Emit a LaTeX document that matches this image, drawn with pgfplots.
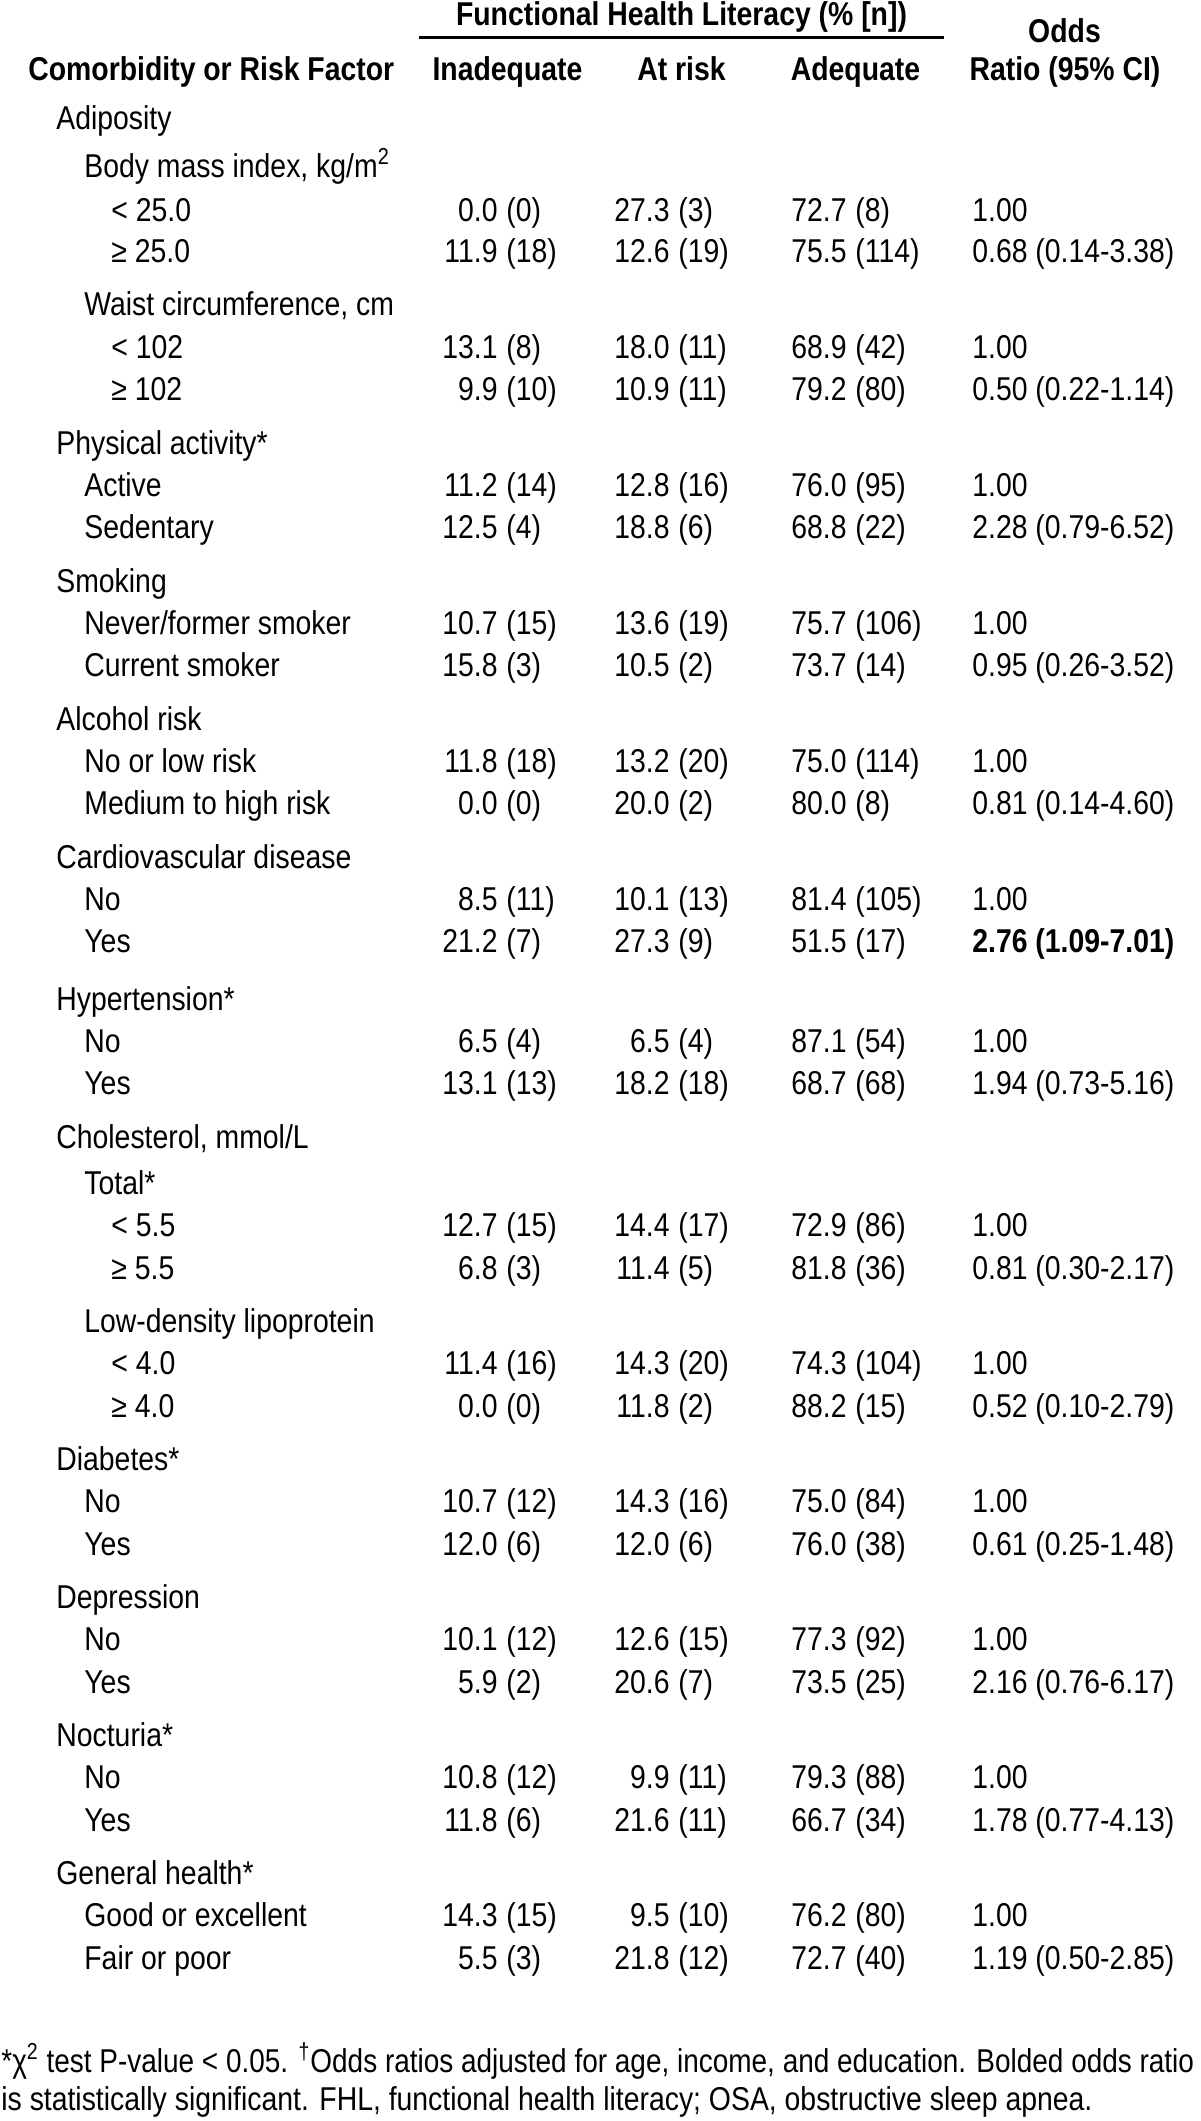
\documentclass[border=0pt]{standalone}
\usepackage{fontspec}
\setmainfont{Liberation Sans}[FakeStretch=0.86]
\usepackage{graphicx}
\usepackage{pgfplots}
\pgfplotsset{compat=1.18}
\newcommand\fs{\fontsize{16.5}{19}\selectfont}
\newcommand\sq{\textsuperscript{2}}
\newcommand\dg{\textsuperscript{†}}
\newcommand\semi{;}
\begin{document}
\begin{tikzpicture}
\begin{axis}[
  scale only axis, width=600pt, height=1060.5pt,
  xmin=0, xmax=1200, ymin=0, ymax=2121, y dir=reverse,
  hide axis, clip=false,
  tbl/.style={draw=none, mark=none, nodes near coords, point meta=explicit symbolic,
    every node near coord/.append style={inner sep=0pt, font=\fs, text=black, anchor=#1}},
  tblb/.style={draw=none, mark=none, nodes near coords, point meta=explicit symbolic,
    every node near coord/.append style={inner sep=0pt, font=\fs\bfseries, text=black, anchor=#1}},
]
% header
\addplot[tblb=base] coordinates {(681.5,25) [Functional Health Literacy (\% {[}n{]})]
  (1064.5,42) [Odds] (507.5,80) [Inadequate] (681.5,80) [At risk] (855.5,80) [Adequate]
  (1065,80) [Ratio (95\% CI)]};
\addplot[tblb=base west] coordinates {(28,80) [Comorbidity or Risk Factor]};
\addplot[black, line width=1.5pt, mark=none] coordinates {(419,37) (944,37)};
% row labels, level 1
\addplot[tbl=base west] coordinates {
 (56,129) [Adiposity] (56,454) [Physical activity*] (56,592) [Smoking]
 (56,730) [Alcohol risk] (56,868) [Cardiovascular disease] (56,1010) [Hypertension*]
 (56,1148) [Cholesterol, mmol/L] (56,1470) [Diabetes*] (56,1608) [Depression]
 (56,1746) [Nocturia*] (56,1884) [General health*]};
% level 2
\addplot[tbl=base west] coordinates {
 (84,177) [Body mass index, kg/m\sq] (84,315) [Waist circumference, cm]
 (84,496) [Active] (84,538) [Sedentary]
 (84,634) [Never/former smoker] (84,676) [Current smoker]
 (84,772) [No or low risk] (84,814) [Medium to high risk]
 (84,910) [No] (84,952) [Yes]
 (84,1052) [No] (84,1094) [Yes]
 (84,1194) [Total*] (84,1332) [Low-density lipoprotein]
 (84,1512) [No] (84,1555) [Yes]
 (84,1650) [No] (84,1693) [Yes]
 (84,1788) [No] (84,1831) [Yes]
 (84,1926) [Good or excellent] (84,1969) [Fair or poor]};
% level 3
\addplot[tbl=base west] coordinates {
 (111,221) [< 25.0] (111,262) [≥ 25.0] (111,358) [< 102] (111,400) [≥ 102]
 (111,1236) [< 5.5] (111,1279) [≥ 5.5] (111,1374) [< 4.0] (111,1417) [≥ 4.0]};
% Inadequate: percentages
\addplot[tbl=base east] coordinates {
 (498,221) [0.0] (498,262) [11.9] (498,358) [13.1] (498,400) [9.9]
 (498,496) [11.2] (498,538) [12.5] (498,634) [10.7] (498,676) [15.8]
 (498,772) [11.8] (498,814) [0.0] (498,910) [8.5] (498,952) [21.2]
 (498,1052) [6.5] (498,1094) [13.1] (498,1236) [12.7] (498,1279) [6.8]
 (498,1374) [11.4] (498,1417) [0.0] (498,1512) [10.7] (498,1555) [12.0]
 (498,1650) [10.1] (498,1693) [5.9] (498,1788) [10.8] (498,1831) [11.8]
 (498,1926) [14.3] (498,1969) [5.5]};
\addplot[tbl=base west] coordinates {
 (506,221) [(0)] (506,262) [(18)] (506,358) [(8)] (506,400) [(10)]
 (506,496) [(14)] (506,538) [(4)] (506,634) [(15)] (506,676) [(3)]
 (506,772) [(18)] (506,814) [(0)] (506,910) [(11)] (506,952) [(7)]
 (506,1052) [(4)] (506,1094) [(13)] (506,1236) [(15)] (506,1279) [(3)]
 (506,1374) [(16)] (506,1417) [(0)] (506,1512) [(12)] (506,1555) [(6)]
 (506,1650) [(12)] (506,1693) [(2)] (506,1788) [(12)] (506,1831) [(6)]
 (506,1926) [(15)] (506,1969) [(3)]};
% At risk
\addplot[tbl=base east] coordinates {
 (670,221) [27.3] (670,262) [12.6] (670,358) [18.0] (670,400) [10.9]
 (670,496) [12.8] (670,538) [18.8] (670,634) [13.6] (670,676) [10.5]
 (670,772) [13.2] (670,814) [20.0] (670,910) [10.1] (670,952) [27.3]
 (670,1052) [6.5] (670,1094) [18.2] (670,1236) [14.4] (670,1279) [11.4]
 (670,1374) [14.3] (670,1417) [11.8] (670,1512) [14.3] (670,1555) [12.0]
 (670,1650) [12.6] (670,1693) [20.6] (670,1788) [9.9] (670,1831) [21.6]
 (670,1926) [9.5] (670,1969) [21.8]};
\addplot[tbl=base west] coordinates {
 (678,221) [(3)] (678,262) [(19)] (678,358) [(11)] (678,400) [(11)]
 (678,496) [(16)] (678,538) [(6)] (678,634) [(19)] (678,676) [(2)]
 (678,772) [(20)] (678,814) [(2)] (678,910) [(13)] (678,952) [(9)]
 (678,1052) [(4)] (678,1094) [(18)] (678,1236) [(17)] (678,1279) [(5)]
 (678,1374) [(20)] (678,1417) [(2)] (678,1512) [(16)] (678,1555) [(6)]
 (678,1650) [(15)] (678,1693) [(7)] (678,1788) [(11)] (678,1831) [(11)]
 (678,1926) [(10)] (678,1969) [(12)]};
% Adequate
\addplot[tbl=base east] coordinates {
 (847,221) [72.7] (847,262) [75.5] (847,358) [68.9] (847,400) [79.2]
 (847,496) [76.0] (847,538) [68.8] (847,634) [75.7] (847,676) [73.7]
 (847,772) [75.0] (847,814) [80.0] (847,910) [81.4] (847,952) [51.5]
 (847,1052) [87.1] (847,1094) [68.7] (847,1236) [72.9] (847,1279) [81.8]
 (847,1374) [74.3] (847,1417) [88.2] (847,1512) [75.0] (847,1555) [76.0]
 (847,1650) [77.3] (847,1693) [73.5] (847,1788) [79.3] (847,1831) [66.7]
 (847,1926) [76.2] (847,1969) [72.7]};
\addplot[tbl=base west] coordinates {
 (855,221) [(8)] (855,262) [(114)] (855,358) [(42)] (855,400) [(80)]
 (855,496) [(95)] (855,538) [(22)] (855,634) [(106)] (855,676) [(14)]
 (855,772) [(114)] (855,814) [(8)] (855,910) [(105)] (855,952) [(17)]
 (855,1052) [(54)] (855,1094) [(68)] (855,1236) [(86)] (855,1279) [(36)]
 (855,1374) [(104)] (855,1417) [(15)] (855,1512) [(84)] (855,1555) [(38)]
 (855,1650) [(92)] (855,1693) [(25)] (855,1788) [(88)] (855,1831) [(34)]
 (855,1926) [(80)] (855,1969) [(40)]};
% Odds ratio
\addplot[tbl=base west] coordinates {
 (972,221) [1.00] (972,262) [0.68 (0.14-3.38)] (972,358) [1.00] (972,400) [0.50 (0.22-1.14)]
 (972,496) [1.00] (972,538) [2.28 (0.79-6.52)] (972,634) [1.00] (972,676) [0.95 (0.26-3.52)]
 (972,772) [1.00] (972,814) [0.81 (0.14-4.60)] (972,910) [1.00]
 (972,1052) [1.00] (972,1094) [1.94 (0.73-5.16)] (972,1236) [1.00] (972,1279) [0.81 (0.30-2.17)]
 (972,1374) [1.00] (972,1417) [0.52 (0.10-2.79)] (972,1512) [1.00] (972,1555) [0.61 (0.25-1.48)]
 (972,1650) [1.00] (972,1693) [2.16 (0.76-6.17)] (972,1788) [1.00] (972,1831) [1.78 (0.77-4.13)]
 (972,1926) [1.00] (972,1969) [1.19 (0.50-2.85)]};
\addplot[tblb=base west] coordinates {(972,952) [2.76 (1.09-7.01)]};
% footnote
\addplot[tbl=base west] coordinates {
 (1,2072) [{\scalebox{0.985}[1]{*χ\sq{} test P-value < 0.05. \dg{}Odds ratios adjusted for age, income, and education. Bolded odds ratio}}]
 (1,2110) [{is statistically significant. FHL, functional health literacy\semi{} OSA, obstructive sleep apnea.}]};
\end{axis}
\pgfresetboundingbox
\useasboundingbox (current axis.south west) rectangle (current axis.north east);
\end{tikzpicture}
\end{document}
